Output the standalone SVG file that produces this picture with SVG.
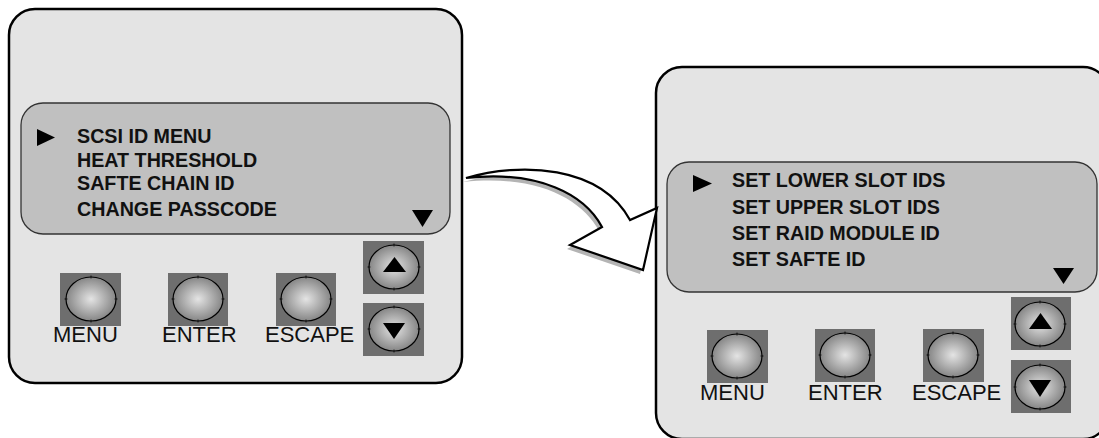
<svg xmlns="http://www.w3.org/2000/svg" width="1099" height="438" viewBox="0 0 1099 438">
<style>
.panel{fill:#e4e4e4;stroke:#000;stroke-width:2.5}
.screen{fill:#c0c0c0;stroke:#333;stroke-width:1.3}
.sq{fill:#6e6e6e}
.knob{fill:url(#btn);stroke:#000;stroke-width:1.2}
.tick{stroke:#000;stroke-width:0.8}
.menu{font-family:"Liberation Sans",Arial,sans-serif;font-weight:bold;font-size:19.7px;fill:#111}
.lbl{font-family:"Liberation Sans",Arial,sans-serif;font-size:22px;fill:#111}
.tri{fill:#000}
</style>
<defs>
<radialGradient id="btn" cx="0.5" cy="0.5" r="0.55">
<stop offset="0" stop-color="#e4e4e4"/>
<stop offset="1" stop-color="#7c7c7c"/>
</radialGradient>
<g id="knob">
<ellipse class="knob" cx="0" cy="0" rx="25" ry="22"/>
<path class="tick" d="M0,-23.5V-20.5M0,20.5V23.5M-26.5,0H-23.5M23.5,0H26.5"/>
</g>
</defs>

<g id="panel-left">
<rect class="panel" x="9" y="9" width="453" height="374" rx="26"/>
<rect class="screen" x="21" y="103" width="429" height="131" rx="22"/>
<polygon class="tri" points="37,129 55,137.5 37,146"/>
<text class="menu" x="77" y="143">SCSI ID MENU</text>
<text class="menu" x="77" y="167">HEAT THRESHOLD</text>
<text class="menu" x="77" y="190">SAFTE CHAIN ID</text>
<text class="menu" x="77" y="216">CHANGE PASSCODE</text>
<polygon class="tri" points="412,210 433,210 422.5,227"/>
<g id="left-menu-btn"><rect class="sq" x="60" y="273" width="61" height="53"/><use href="#knob" x="91" y="299"/><text class="lbl" x="53" y="342">MENU</text></g>
<g id="left-enter-btn"><rect class="sq" x="168" y="273" width="60" height="53"/><use href="#knob" x="198" y="299"/><text class="lbl" x="162" y="342">ENTER</text></g>
<g id="left-escape-btn"><rect class="sq" x="276" y="273" width="60" height="53"/><use href="#knob" x="306" y="299"/><text class="lbl" x="265" y="342">ESCAPE</text></g>
<g id="left-up-btn"><rect class="sq" x="363" y="241" width="61" height="53"/><use href="#knob" x="394" y="267"/><polygon class="tri" points="383,272 406,272 394.5,257"/></g>
<g id="left-down-btn"><rect class="sq" x="363" y="303" width="61" height="53"/><use href="#knob" x="394" y="329"/><polygon class="tri" points="383,323 405,323 394,339"/></g>
</g>

<g id="panel-right">
<rect class="panel" x="656" y="67" width="453" height="372" rx="26"/>
<rect class="screen" x="667" y="162" width="430" height="130" rx="22"/>
<polygon class="tri" points="693,175 712,183.5 693,192"/>
<text class="menu" x="732" y="187">SET LOWER SLOT IDS</text>
<text class="menu" x="732" y="214">SET UPPER SLOT IDS</text>
<text class="menu" x="732" y="240">SET RAID MODULE ID</text>
<text class="menu" x="732" y="266">SET SAFTE ID</text>
<polygon class="tri" points="1053,268 1074,268 1063.5,284"/>
<g id="right-menu-btn"><rect class="sq" x="707" y="330" width="61" height="53"/><use href="#knob" x="737" y="356"/><text class="lbl" x="700" y="400">MENU</text></g>
<g id="right-enter-btn"><rect class="sq" x="815" y="329" width="60" height="53"/><use href="#knob" x="845" y="355"/><text class="lbl" x="808" y="400">ENTER</text></g>
<g id="right-escape-btn"><rect class="sq" x="923" y="329" width="61" height="53"/><use href="#knob" x="953" y="355"/><text class="lbl" x="912" y="400">ESCAPE</text></g>
<g id="right-up-btn"><rect class="sq" x="1011" y="297" width="60" height="53"/><use href="#knob" x="1040" y="324"/><polygon class="tri" points="1029,329 1052,329 1040.5,313"/></g>
<g id="right-down-btn"><rect class="sq" x="1011" y="360" width="60" height="53"/><use href="#knob" x="1040" y="387"/><polygon class="tri" points="1029,380 1051,380 1040,397"/></g>
</g>

<g id="connectors">
<path d="M466,178 C520,162 600,165 630,220 L657,208 L643,270 L570,245 L602,227 C585,195 540,170 466,178 Z" fill="#b4b4b4" transform="translate(-3,4)"/>
<path d="M466,178 C520,162 600,165 630,220 L657,208 L643,270 L570,245 L602,227 C585,195 540,170 466,178 Z" fill="#fff" stroke="#000" stroke-width="2.2" stroke-linejoin="miter"/>
</g>
</svg>
